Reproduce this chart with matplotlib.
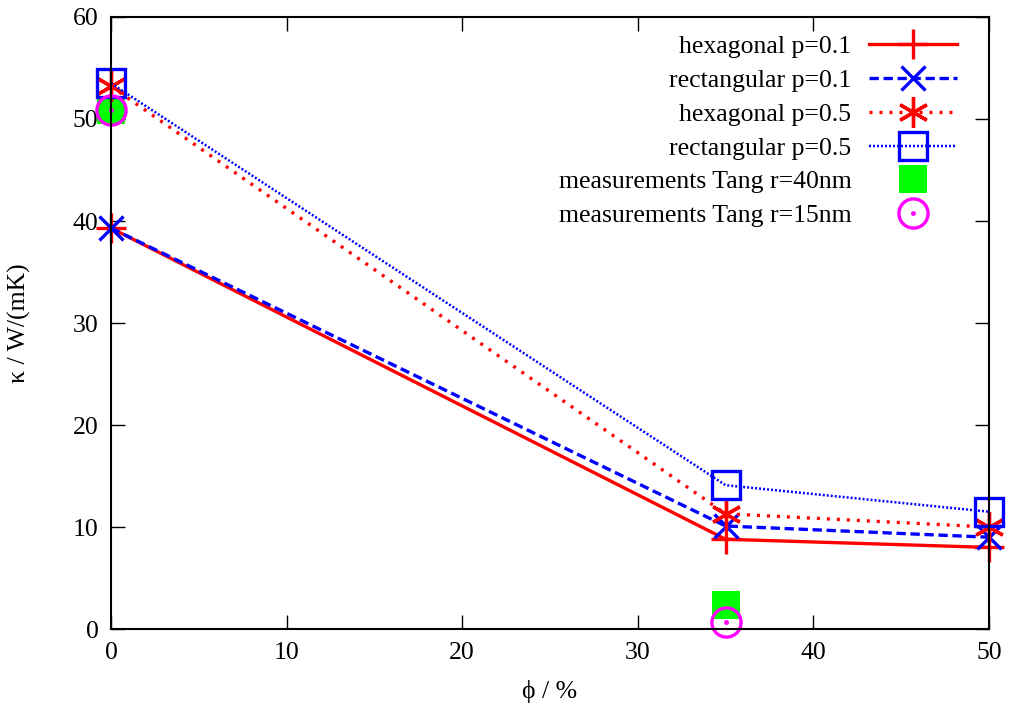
import matplotlib.pyplot as plt
from matplotlib.lines import Line2D

# porosity phi / %
phi = [0, 35, 50]
hex_p01 = [39.3, 8.8, 8.0]
rect_p01 = [39.3, 10.1, 9.0]
hex_p05 = [53.2, 11.3, 10.0]
rect_p05 = [53.5, 14.1, 11.5]

phi_tang = [0, 35]
tang_40 = [50.9, 2.4]
tang_15 = [50.9, 0.7]

xticks = [0, 10, 20, 30, 40, 50]
yticks = [0, 10, 20, 30, 40, 50, 60]

plt.rcParams['font.family'] = ['Liberation Serif', 'DejaVu Serif']
plt.rcParams['font.size'] = 18.5
plt.rcParams['mathtext.fontset'] = 'stix'

fig = plt.figure(figsize=(10.1, 7.11), dpi=100)
ax = fig.add_axes([0.1099, 0.1153, 0.8693, 0.8608])

ms = 21
mew = 2.4
lw = 2.4

h1, = ax.plot(phi, hex_p01, color='#ff0000', lw=lw, ls='-', marker='+', ms=ms * 1.05, mew=mew,
              clip_on=False, label='hexagonal p=0.1')
h2, = ax.plot(phi, rect_p01, color='#0000ff', lw=lw, ls=(0, (2.8, 1.4)), marker='x', ms=ms * 0.85, mew=mew,
              clip_on=False, label='rectangular p=0.1')
h3, = ax.plot(phi, hex_p05, color='#ff0000', lw=lw, ls=(0, (0.9, 2.1)), marker=(6, 2, 0), ms=ms * 1.05, mew=mew,
              clip_on=False, label='hexagonal p=0.5')
h4, = ax.plot(phi, rect_p05, color='#0000ff', lw=lw * 0.75, ls=(0, (0.8, 0.8)), marker='s', ms=ms * 0.95, mew=mew,
              mfc='none', clip_on=False, label='rectangular p=0.5')
h5, = ax.plot(phi_tang, tang_40, ls='none', marker='s', ms=ms * 0.95, color='#00ff00', mew=0,
              clip_on=False, zorder=1.9, label='measurements Tang r=40nm')
h6, = ax.plot(phi_tang, tang_15, ls='none', marker='o', ms=ms, mfc='none', mec='#ff00ff', mew=mew,
              clip_on=False, label='measurements Tang r=15nm')
d6, = ax.plot(phi_tang, tang_15, ls='none', marker='o', ms=2.5, color='#ff00ff', clip_on=False)

ax.set_xlim(0, 50)
ax.set_ylim(0, 60)
ax.set_xticks(xticks)
ax.set_yticks(yticks)
ax.tick_params(direction='in', top=True, right=True, length=10, width=1, labelsize=18.5, pad=9)
for s in ax.spines.values():
    s.set_linewidth(1.5)

ax.set_xlabel('ϕ / %', labelpad=12)
ax.set_ylabel('κ / W/(mK)', labelpad=30)

leg = ax.legend([h1, h2, h3, h4, h5, (h6, d6)],
                [h.get_label() for h in [h1, h2, h3, h4, h5, h6]],
                loc='upper right', markerfirst=False, alignment='right', frameon=False,
                fontsize=18.5, handlelength=3.4, handletextpad=0.7, labelspacing=0.42,
                borderaxespad=0.0, bbox_to_anchor=(0.975, 0.987))

fig.savefig('out.png', dpi=100)
